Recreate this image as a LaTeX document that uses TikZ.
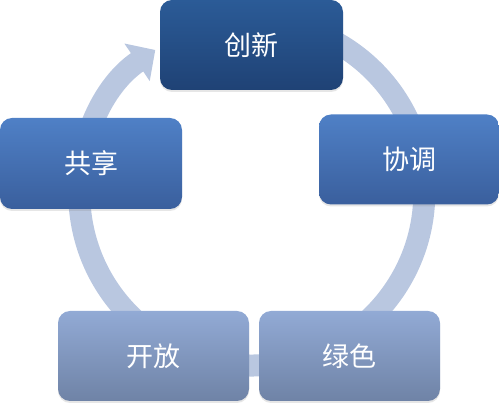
\documentclass[tikz,border=0pt]{standalone}
\usepackage{fontspec}
\newfontfamily\cjk{Noto Sans CJK SC}
\usetikzlibrary{arrows.meta,shadows}
\definecolor{bandc}{HTML}{B9C7E0}
\definecolor{darkT}{HTML}{2B5B97}\definecolor{darkB}{HTML}{1F4275}
\definecolor{midT}{HTML}{4F80C6}\definecolor{midB}{HTML}{3A5F9D}
\definecolor{liteT}{HTML}{92AAD5}\definecolor{liteB}{HTML}{6F83A6}

\begin{document}
\begin{tikzpicture}[x=1pt,y=1pt,
  box/.style={rounded corners=12pt,minimum height=90pt,text=white,
    font=\cjk\fontsize{27}{32}\selectfont,
    drop shadow={opacity=0.2,shadow xshift=0pt,shadow yshift=-2pt}},
  dark/.style={box,top color=darkT,bottom color=darkB},
  mid/.style={box,top color=midT,bottom color=midB},
  lite/.style={box,top color=liteT,bottom color=liteB},
  band/.style={draw=bandc,line width=22pt,
    -{Triangle[width=44pt,length=22pt]}}]
\useasboundingbox (0,0) rectangle (499,407);
\coordinate (c) at (251.75,214);
\draw[band] (c) ++(100:172.5) arc[start angle=100,end angle=-236,radius=172.5];
\node[dark,minimum width=183pt] (inn) at (251.5,362) {创新};
\node[mid,minimum width=180pt] (coo) at (409,247.5) {协调};
\node[lite,minimum width=181pt] (grn) at (349.5,51) {绿色};
\node[lite,minimum width=191pt] (opn) at (153.5,51) {开放};
\node[mid,minimum width=182pt,minimum height=91pt] (shr) at (91,243.5) {共享};
\end{tikzpicture}
\end{document}
